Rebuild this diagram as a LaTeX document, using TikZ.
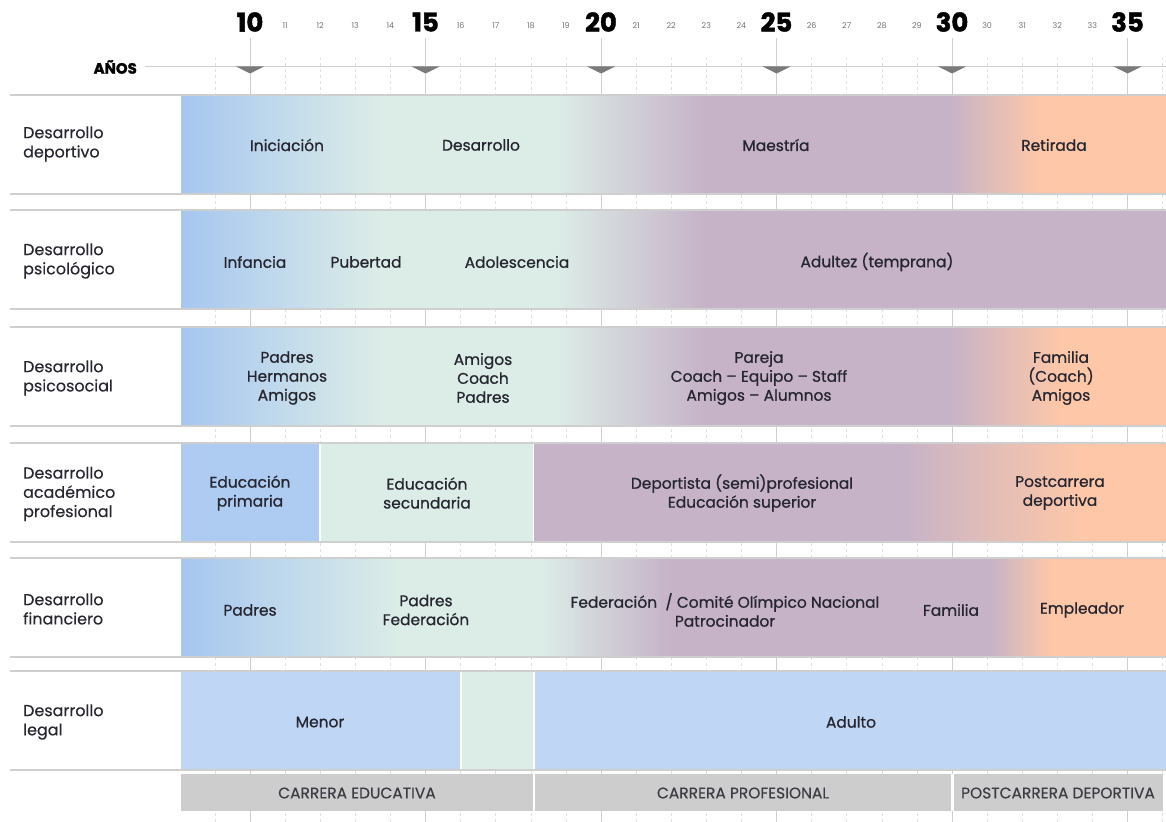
\documentclass[tikz,border=0pt]{standalone}
\usepackage{fontspec}
\setmainfont{Poppins}
\newfontfamily\medfont{Poppins}[FakeBold=0.8]
\newfontfamily\lblfont{Poppins}[FakeBold=0.3]
\newfontfamily\heavyfont{Poppins}[BoldFeatures={FakeBold=1.6}]

\definecolor{cblue}{HTML}{A6C6F0}
\definecolor{cgreen}{HTML}{DCEDE7}
\definecolor{cmauve}{HTML}{C6B3C8}
\definecolor{cpeach}{HTML}{FDC7A8}
\definecolor{cprim}{HTML}{AECBF2}
\definecolor{clegal}{HTML}{BFD7F5}
\definecolor{cbar}{HTML}{CDCDCD}
\definecolor{ink}{HTML}{262630}
\definecolor{linegray}{HTML}{CFCFCF}
\definecolor{gridgray}{HTML}{E0E0E0}
\definecolor{trigray}{HTML}{7A7A7A}

\pgfdeclarehorizontalshading{fasedep}{100bp}{color(0bp)=(cblue); color(25bp)=(cblue); color(35.1bp)=(cgreen); color(44bp)=(cgreen); color(51.5bp)=(cmauve); color(64bp)=(cmauve); color(68.6bp)=(cpeach); color(100bp)=(cpeach)}
\pgfdeclarehorizontalshading{fasepsi}{100bp}{color(0bp)=(cblue); color(25bp)=(cblue); color(35.1bp)=(cgreen); color(44bp)=(cgreen); color(51.5bp)=(cmauve); color(100bp)=(cmauve)}
\pgfdeclarehorizontalshading{fasesoc}{100bp}{color(0bp)=(cblue); color(25bp)=(cblue); color(35.1bp)=(cgreen); color(44bp)=(cgreen); color(51.5bp)=(cmauve); color(64bp)=(cmauve); color(69.6bp)=(cpeach); color(100bp)=(cpeach)}
\pgfdeclarehorizontalshading{faseaca}{100bp}{color(0bp)=(cmauve); color(54bp)=(cmauve); color(68.2bp)=(cpeach); color(100bp)=(cpeach)}
\pgfdeclarehorizontalshading{fasefin}{100bp}{color(0bp)=(cblue); color(25bp)=(cblue); color(36.1bp)=(cgreen); color(43.2bp)=(cgreen); color(49.8bp)=(cmauve); color(66.1bp)=(cmauve); color(69.1bp)=(cpeach); color(100bp)=(cpeach)}

\tikzset{
  celltext/.style={anchor=center, align=center, inner sep=0pt, text=ink, font=\medfont\fontsize{15.5}{19}\selectfont},
  rowlabel/.style={anchor=west, align=left, inner sep=0pt, text=ink, font=\lblfont\fontsize{16}{19.3}\selectfont},
  bigyear/.style={anchor=center, inner sep=0pt, text=black, font=\heavyfont\fontsize{26}{26}\selectfont\bfseries},
  smallyear/.style={anchor=center, inner sep=0pt, text=black!55, font=\fontsize{8}{8}\selectfont},
  bartext/.style={anchor=center, inner sep=0pt, text=ink!90, font=\lblfont\fontsize{15.5}{17}\selectfont},
  sepline/.style={draw=linegray, line width=1.5bp},
  yearmark/.style={fill=trigray},
}

\begin{document}
\begin{tikzpicture}[x=1bp, y=-1bp]
    \useasboundingbox (0,0) rectangle (1166,822);

    \begin{scope}[xshift=-101bp]
        \draw[gridgray, dashed, dash pattern=on 3bp off 3bp, line width=0.6bp] (280.8,822) grid[xstep=35.1, ystep=2000] (1265,58);
    \end{scope}
    \begin{scope}[xshift=74.5bp]
        \draw[linegray, line width=1bp] (175.5,822) grid[xstep=175.5, ystep=2000] (1060,38);
    \end{scope}

    \draw[linegray, line width=1bp] (145,66.5) -- (1166,66.5);
    \fill[yearmark] (236,66.5) -- (264,66.5) -- (250,73.5) -- cycle;
    \fill[yearmark] (411.5,66.5) -- (439.5,66.5) -- (425.5,73.5) -- cycle;
    \fill[yearmark] (587,66.5) -- (615,66.5) -- (601,73.5) -- cycle;
    \fill[yearmark] (762.5,66.5) -- (790.5,66.5) -- (776.5,73.5) -- cycle;
    \fill[yearmark] (938,66.5) -- (966,66.5) -- (952,73.5) -- cycle;
    \fill[yearmark] (1113.5,66.5) -- (1141.5,66.5) -- (1127.5,73.5) -- cycle;

    \node[anchor=east, inner sep=0pt, text=black, font=\heavyfont\fontsize{15}{15}\selectfont\bfseries] (anos) at (137,67) {AÑOS};

    \node[bigyear] (y10) at (250,22) {10};
    \node[bigyear] (y15) at (425.5,22) {15};
    \node[bigyear] (y20) at (601,22) {20};
    \node[bigyear] (y25) at (776.5,22) {25};
    \node[bigyear] (y30) at (952,22) {30};
    \node[bigyear] (y35) at (1127.5,22) {35};

    \node[smallyear] (y11) at (285.1,26) {11};
    \node[smallyear] (y12) at (320.2,26) {12};
    \node[smallyear] (y13) at (355.3,26) {13};
    \node[smallyear] (y14) at (390.4,26) {14};
    \node[smallyear] (y16) at (460.6,26) {16};
    \node[smallyear] (y17) at (495.7,26) {17};
    \node[smallyear] (y18) at (530.8,26) {18};
    \node[smallyear] (y19) at (565.9,26) {19};
    \node[smallyear] (y21) at (636.1,26) {21};
    \node[smallyear] (y22) at (671.2,26) {22};
    \node[smallyear] (y23) at (706.3,26) {23};
    \node[smallyear] (y24) at (741.4,26) {24};
    \node[smallyear] (y26) at (811.6,26) {26};
    \node[smallyear] (y27) at (846.7,26) {27};
    \node[smallyear] (y28) at (881.8,26) {28};
    \node[smallyear] (y29) at (916.9,26) {29};
    \node[smallyear] (y31) at (987.1,26) {30};
    \node[smallyear] (y32) at (1022.2,26) {31};
    \node[smallyear] (y33) at (1057.3,26) {32};
    \node[smallyear] (y34) at (1092.4,26) {33};

    \shade[shading=fasedep] (181,95) rectangle (1166,194);
    \shade[shading=fasepsi] (181,210) rectangle (1166,309);
    \shade[shading=fasesoc] (181,327) rectangle (1166,426);
    \fill[white] (181,443) rectangle (1166,542);
    \fill[cprim] (181,443) rectangle (318.5,542);
    \fill[cgreen] (320.5,443) rectangle (532.5,542);
    \shade[shading=faseaca] (534.5,443) rectangle (1166,542);
    \shade[shading=fasefin] (181,558) rectangle (1166,657);
    \fill[white] (181,671) rectangle (1166,770);
    \fill[clegal] (181,671) rectangle (459.5,770);
    \fill[cgreen] (461.5,671) rectangle (533,770);
    \fill[clegal] (535,671) rectangle (1166,770);

    \fill[white] (181,774) rectangle (1163,811);
    \fill[cbar] (181,774) rectangle (532.5,811);
    \fill[cbar] (535,774) rectangle (951,811);
    \fill[cbar] (953.5,774) rectangle (1163,811);

    \draw[sepline] (10,95) -- (1166,95);
    \draw[sepline] (10,194) -- (1166,194);
    \draw[sepline] (10,210) -- (1166,210);
    \draw[sepline] (10,309) -- (1166,309);
    \draw[sepline] (10,327) -- (1166,327);
    \draw[sepline] (10,426) -- (1166,426);
    \draw[sepline] (10,443) -- (1166,443);
    \draw[sepline] (10,542) -- (1166,542);
    \draw[sepline] (10,558) -- (1166,558);
    \draw[sepline] (10,657) -- (1166,657);
    \draw[sepline] (10,671) -- (1166,671);
    \draw[sepline] (10,770) -- (1166,770);

    \node[rowlabel] (lbldep) at (23,144) {Desarrollo\\deportivo};
    \node[rowlabel] (lblpsi) at (23,261) {Desarrollo\\psicológico};
    \node[rowlabel] (lblsoc) at (23,378) {Desarrollo\\psicosocial};
    \node[rowlabel] (lblaca) at (23,494) {Desarrollo\\académico\\profesional};
    \node[rowlabel] (lblfin) at (23,609) {Desarrollo\\financiero};
    \node[rowlabel] (lblleg) at (23,722) {Desarrollo\\legal};

    \node[celltext] (iniciacion) at (287,145) {Iniciación};
    \node[celltext] (desarrollo) at (481,145) {Desarrollo};
    \node[celltext] (maestria) at (776,145) {Maestría};
    \node[celltext] (retirada) at (1054,145) {Retirada};

    \node[celltext] (infancia) at (255,262) {Infancia};
    \node[celltext] (pubertad) at (366,262) {Pubertad};
    \node[celltext] (adolescencia) at (517,262) {Adolescencia};
    \node[celltext] (adultez) at (877,262) {Adultez (temprana)};

    \node[celltext] (socinf) at (287,378) {Padres\\Hermanos\\Amigos};
    \node[celltext] (socado) at (483,378) {Amigos\\Coach\\Padres};
    \node[celltext] (socadu) at (759,378) {Pareja\\Coach – Equipo – Staff\\Amigos – Alumnos};
    \node[celltext] (socret) at (1061,378) {Familia\\(Coach)\\Amigos};

    \node[celltext] (primaria) at (250,493) {Educación\\primaria};
    \node[celltext] (secundaria) at (427,493) {Educación\\secundaria};
    \node[celltext] (superior) at (742,493) {Deportista (semi)profesional\\Educación superior};
    \node[celltext] (postcarrera) at (1060,493) {Postcarrera\\deportiva};

    \node[celltext] (finpadres) at (250,610) {Padres};
    \node[celltext] (finfede) at (426,610) {Padres\\Federación};
    \node[celltext] (fincoi) at (725,610) {Federación~ / Comité Olímpico Nacional\\Patrocinador};
    \node[celltext] (finfam) at (951,610) {Familia};
    \node[celltext] (finemp) at (1082,610) {Empleador};

    \node[celltext] (menor) at (320,722) {Menor};
    \node[celltext] (adulto) at (851,722) {Adulto};

    \node[bartext] (careduc) at (357,793) {CARRERA EDUCATIVA};
    \node[bartext] (carprof) at (743,793) {CARRERA PROFESIONAL};
    \node[bartext] (carpost) at (1058,793) {POSTCARRERA DEPORTIVA};
\end{tikzpicture}
\end{document}
